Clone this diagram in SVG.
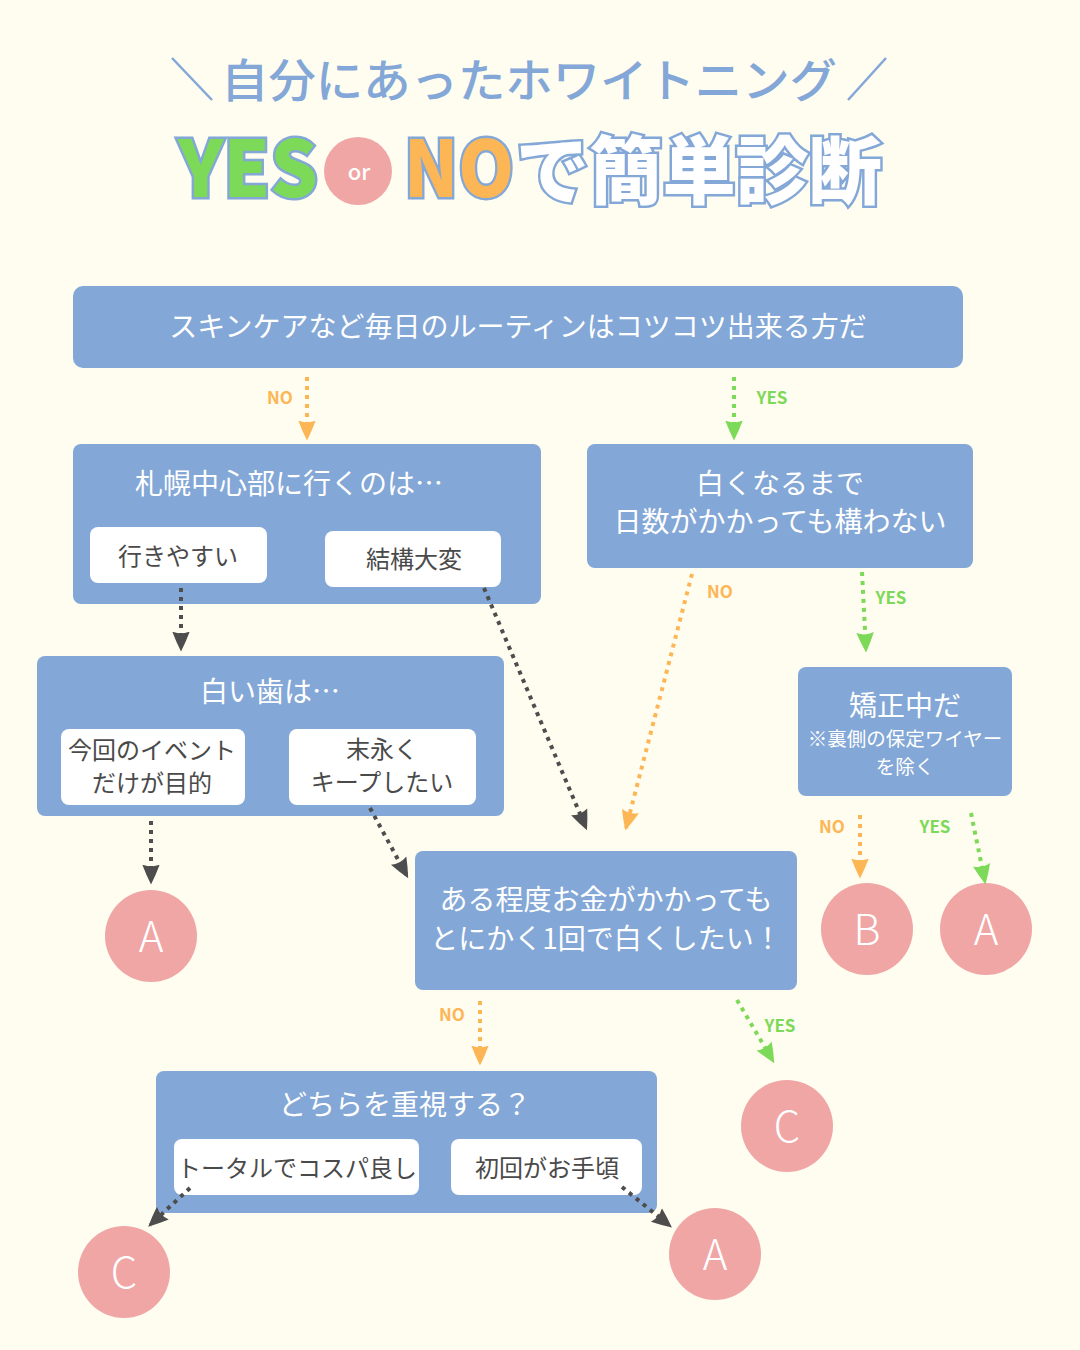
<svg xmlns="http://www.w3.org/2000/svg" width="1080" height="1350" viewBox="0 0 1080 1350">
<style>
.t{font-family:"Noto Sans CJK JP","Noto Sans",sans-serif}
.box{fill:#83A7D6}
.sub{fill:#FFFFFF}
.wt{fill:#FFFFFF;font-size:28px;text-anchor:middle;font-family:"Noto Sans CJK JP","Noto Sans",sans-serif}
.ws{font-size:19.5px}
.dt{fill:#4A4A4A;font-size:24px;text-anchor:middle;font-family:"Noto Sans CJK JP","Noto Sans",sans-serif}
.cir{fill:#EFA6A5}
.ct{fill:#FFFFFF;font-size:42px;text-anchor:middle;font-family:"Noto Sans CJK JP","Noto Sans",sans-serif;font-weight:300}
.lbl{font-size:17px;font-weight:700;font-family:"Noto Sans CJK JP","Noto Sans",sans-serif}
.no{fill:#FDB655}
.yes{fill:#7DD958}
.ln{fill:none;stroke-width:4;stroke-dasharray:4 5}
.lo{stroke:#FDB655}
.lg{stroke:#7DD958}
.ld{stroke:#4D4D4D}
</style>
<defs>
<marker id="mo" markerUnits="userSpaceOnUse" markerWidth="20" markerHeight="20" refX="14" refY="8" orient="auto" viewBox="0 0 16 16"><path d="M0,1 Q8,4 16,8 Q8,12 0,15 Q3,8 0,1Z" fill="#FDB655"/></marker>
<marker id="mg" markerUnits="userSpaceOnUse" markerWidth="20" markerHeight="20" refX="14" refY="8" orient="auto" viewBox="0 0 16 16"><path d="M0,1 Q8,4 16,8 Q8,12 0,15 Q3,8 0,1Z" fill="#7DD958"/></marker>
<marker id="md" markerUnits="userSpaceOnUse" markerWidth="20" markerHeight="20" refX="14" refY="8" orient="auto" viewBox="0 0 16 16"><path d="M0,1 Q8,4 16,8 Q8,12 0,15 Q3,8 0,1Z" fill="#4D4D4D"/></marker>
</defs>
<rect width="1080" height="1350" fill="#FFFCF0"/>

<g id="title">
<line x1="172" y1="58" x2="212" y2="100" stroke="#83A7D6" stroke-width="2.5"/>
<line x1="848" y1="100" x2="886" y2="58" stroke="#83A7D6" stroke-width="2.5"/>
<text class="t" x="529" y="97" font-size="46" fill="#83A7D6" text-anchor="middle" font-weight="500" textLength="616" lengthAdjust="spacingAndGlyphs">自分にあったホワイトニング</text>
<text class="t" x="178" y="197" font-size="78" font-weight="900" fill="#7DD958" stroke="#83A7D6" stroke-width="5" paint-order="stroke" textLength="140" lengthAdjust="spacingAndGlyphs">YES</text>
<ellipse cx="358" cy="171" rx="34" ry="34" fill="#EFA6A5"/>
<text class="t" x="359" y="180" font-size="22" fill="#FFFFFF" text-anchor="middle" font-weight="500">or</text>
<text class="t" x="404" y="197" font-size="78" font-weight="900" fill="#FDB655" stroke="#83A7D6" stroke-width="5" paint-order="stroke" textLength="110" lengthAdjust="spacingAndGlyphs">NO</text>
<text class="t" x="516" y="198" font-size="74" font-weight="900" fill="#FFFFFF" stroke="#83A7D6" stroke-width="5" paint-order="stroke" textLength="366" lengthAdjust="spacingAndGlyphs">で簡単診断</text>
</g>

<g id="q1">
<rect class="box" x="73" y="286" width="890" height="82" rx="10"/>
<text class="wt" x="518" y="337">スキンケアなど毎日のルーティンはコツコツ出来る方だ</text>
</g>

<g id="q2">
<rect class="box" x="73" y="444" width="468" height="160" rx="8"/>
<text class="wt" x="289" y="494">札幌中心部に行くのは…</text>
<rect class="sub" x="90" y="527" width="177" height="56" rx="8"/>
<text class="dt" x="178" y="565">行きやすい</text>
<rect class="sub" x="325" y="531" width="176" height="56" rx="8"/>
<text class="dt" x="414" y="568">結構大変</text>
</g>

<g id="q3">
<rect class="box" x="587" y="444" width="386" height="124" rx="8"/>
<text class="wt" x="780" y="494">白くなるまで</text>
<text class="wt" x="780" y="532">日数がかかっても構わない</text>
</g>

<g id="q4">
<rect class="box" x="37" y="656" width="467" height="160" rx="8"/>
<text class="wt" x="270" y="702">白い歯は…</text>
<rect class="sub" x="61" y="729" width="184" height="76" rx="8"/>
<text class="dt" x="152" y="759">今回のイベント</text>
<text class="dt" x="152" y="792">だけが目的</text>
<rect class="sub" x="289" y="729" width="187" height="76" rx="8"/>
<text class="dt" x="382" y="758">末永く</text>
<text class="dt" x="382" y="791">キープしたい</text>
</g>

<g id="q5">
<rect class="box" x="798" y="667" width="214" height="129" rx="8"/>
<text class="wt" x="905" y="716">矯正中だ</text>
<text class="wt ws" x="905" y="746">※裏側の保定ワイヤー</text>
<text class="wt ws" x="905" y="774">を除く</text>
</g>

<g id="q6">
<rect class="box" x="415" y="851" width="382" height="139" rx="8"/>
<text class="wt" x="606" y="910">ある程度お金がかかっても</text>
<text class="wt" x="606" y="949">とにかく1回で白くしたい！</text>
</g>

<g id="q7">
<rect class="box" x="156" y="1071" width="501" height="142" rx="8"/>
<text class="wt" x="405" y="1115">どちらを重視する？</text>
<rect class="sub" x="174" y="1139" width="245" height="56" rx="8"/>
<text class="dt" x="297" y="1177">トータルでコスパ良し</text>
<rect class="sub" x="451" y="1139" width="191" height="56" rx="8"/>
<text class="dt" x="547" y="1177">初回がお手頃</text>
</g>

<g id="rA1"><circle class="cir" cx="151" cy="936" r="46"/><text class="ct" x="151" y="952">A</text></g>
<g id="rB"><circle class="cir" cx="867" cy="929" r="46"/><text class="ct" x="867" y="945">B</text></g>
<g id="rA2"><circle class="cir" cx="986" cy="929" r="46"/><text class="ct" x="986" y="945">A</text></g>
<g id="rC1"><circle class="cir" cx="787" cy="1126" r="46"/><text class="ct" x="787" y="1142">C</text></g>
<g id="rC2"><circle class="cir" cx="124" cy="1272" r="46"/><text class="ct" x="124" y="1288">C</text></g>
<g id="rA3"><circle class="cir" cx="715" cy="1254" r="46"/><text class="ct" x="715" y="1270">A</text></g>

<g id="connectors">
<line class="ln lo" x1="307" y1="377" x2="307" y2="438" marker-end="url(#mo)"/>
<text class="lbl no" x="280" y="404" text-anchor="middle">NO</text>
<line class="ln lg" x1="734" y1="377" x2="734" y2="438" marker-end="url(#mg)"/>
<text class="lbl yes" x="772" y="404" text-anchor="middle">YES</text>
<line class="ln ld" x1="181" y1="588" x2="181" y2="649" marker-end="url(#md)"/>
<line class="ln ld" x1="484" y1="588" x2="586" y2="828" marker-end="url(#md)"/>
<line class="ln lo" x1="692" y1="574" x2="626" y2="828" marker-end="url(#mo)"/>
<text class="lbl no" x="720" y="598" text-anchor="middle">NO</text>
<line class="ln lg" x1="862" y1="572" x2="866" y2="650" marker-end="url(#mg)"/>
<text class="lbl yes" x="891" y="604" text-anchor="middle">YES</text>
<line class="ln ld" x1="151" y1="821" x2="151" y2="882" marker-end="url(#md)"/>
<line class="ln ld" x1="370" y1="808" x2="407" y2="876" marker-end="url(#md)"/>
<line class="ln lo" x1="860" y1="815" x2="860" y2="876" marker-end="url(#mo)"/>
<text class="lbl no" x="832" y="833" text-anchor="middle">NO</text>
<line class="ln lg" x1="971" y1="813" x2="985" y2="882" marker-end="url(#mg)"/>
<text class="lbl yes" x="935" y="833" text-anchor="middle">YES</text>
<line class="ln lo" x1="480" y1="1001" x2="480" y2="1063" marker-end="url(#mo)"/>
<text class="lbl no" x="452" y="1021" text-anchor="middle">NO</text>
<line class="ln lg" x1="737" y1="1000" x2="773" y2="1061" marker-end="url(#mg)"/>
<text class="lbl yes" x="780" y="1032" text-anchor="middle">YES</text>
<line class="ln ld" x1="190" y1="1188" x2="150" y2="1225" marker-end="url(#md)"/>
<line class="ln ld" x1="622" y1="1187" x2="670" y2="1226" marker-end="url(#md)"/>
</g>
</svg>
